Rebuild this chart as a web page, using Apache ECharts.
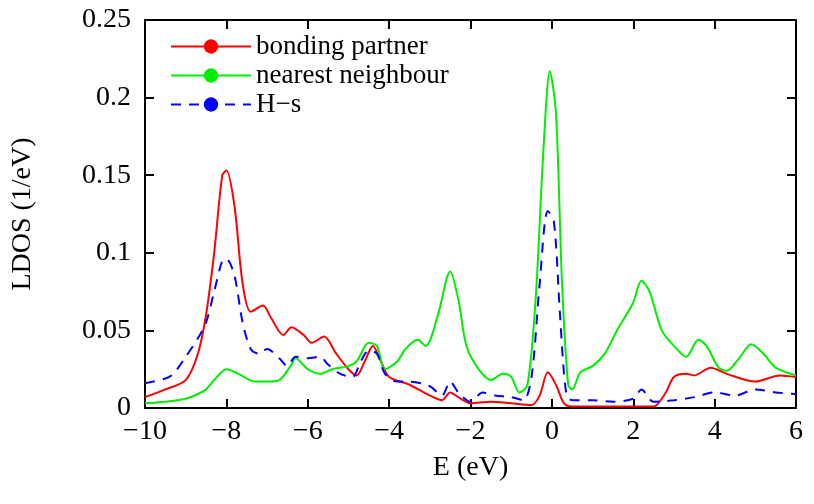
<!DOCTYPE html>
<html>
<head>
<meta charset="utf-8">
<script src="https://cdn.jsdelivr.net/npm/echarts@6/dist/echarts.min.js"></script>
<style>html,body{margin:0;padding:0;background:#fff}#chart{width:814px;height:504px}</style>
</head>
<body>
<div id="chart"></div>
<script>
// ========== 数据 ==========
const seriesNames = ['bonding partner', 'nearest neighbour', 'H\u2212s'];
const xTicks = [-10, -8, -6, -4, -2, 0, 2, 4, 6];
const yTicks = [0, 0.05, 0.1, 0.15, 0.2, 0.25];

const bonding = [[-10,0.007],[-9.5,0.012],[-9,0.018],[-8.7,0.035],[-8.5,0.06],[-8.3,0.1],[-8.1,0.15],[-8.0,0.153],[-7.8,0.13],[-7.6,0.08],[-7.4,0.062],[-7.1,0.066],[-6.9,0.058],[-6.6,0.047],[-6.4,0.052],[-6.1,0.047],[-5.9,0.042],[-5.6,0.046],[-5.3,0.035],[-5.0,0.025],[-4.8,0.021],[-4.6,0.03],[-4.4,0.04],[-4.2,0.03],[-4.0,0.02],[-3.5,0.015],[-3.0,0.008],[-2.7,0.005],[-2.5,0.01],[-2.3,0.007],[-2.0,0.003],[-1.5,0.004],[-1.0,0.003],[-0.5,0.002],[-0.3,0.008],[-0.1,0.023],[0.1,0.015],[0.3,0.003],[0.5,0.001],[1,0.001],[2,0.001],[2.5,0.001],[2.8,0.01],[3.0,0.02],[3.3,0.022],[3.5,0.021],[3.9,0.026],[4.3,0.022],[5.0,0.017],[5.6,0.021],[6,0.02]];

const neighbour = [[-10,0.003],[-9.5,0.004],[-9,0.006],[-8.7,0.009],[-8.5,0.012],[-8.3,0.018],[-8.0,0.025],[-7.7,0.022],[-7.3,0.017],[-7.0,0.017],[-6.7,0.018],[-6.4,0.028],[-6.3,0.032],[-6.0,0.025],[-5.7,0.022],[-5.4,0.025],[-5.0,0.027],[-4.8,0.03],[-4.5,0.042],[-4.3,0.04],[-4.1,0.025],[-3.8,0.03],[-3.6,0.038],[-3.3,0.044],[-3.1,0.04],[-2.8,0.06],[-2.5,0.088],[-2.3,0.07],[-2.1,0.04],[-1.8,0.025],[-1.5,0.018],[-1.2,0.022],[-1.0,0.02],[-0.8,0.01],[-0.6,0.015],[-0.4,0.07],[-0.2,0.17],[-0.05,0.217],[0.1,0.19],[0.25,0.08],[0.4,0.015],[0.5,0.012],[0.7,0.023],[1,0.027],[1.3,0.035],[1.6,0.05],[2.0,0.068],[2.2,0.082],[2.4,0.075],[2.7,0.05],[3.0,0.04],[3.3,0.033],[3.6,0.044],[3.8,0.04],[4.1,0.026],[4.3,0.024],[4.6,0.032],[4.9,0.041],[5.2,0.035],[5.5,0.026],[6.0,0.021]];

const hs = [[-10,0.016],[-9.5,0.019],[-9.3,0.022],[-9,0.033],[-8.7,0.045],[-8.5,0.055],[-8.3,0.075],[-8.1,0.095],[-8.0,0.096],[-7.8,0.085],[-7.6,0.055],[-7.4,0.038],[-7.2,0.035],[-7.0,0.038],[-6.7,0.032],[-6.5,0.027],[-6.3,0.033],[-6.0,0.032],[-5.7,0.033],[-5.5,0.028],[-5.2,0.022],[-4.9,0.02],[-4.7,0.03],[-4.5,0.037],[-4.3,0.035],[-4.1,0.022],[-3.8,0.017],[-3.5,0.017],[-3.0,0.014],[-2.7,0.008],[-2.5,0.017],[-2.3,0.01],[-2.0,0.004],[-1.7,0.01],[-1.4,0.008],[-1.0,0.007],[-0.7,0.005],[-0.5,0.02],[-0.3,0.08],[-0.1,0.127],[0.05,0.12],[0.2,0.06],[0.35,0.01],[0.5,0.005],[1,0.005],[1.5,0.004],[2.0,0.006],[2.2,0.012],[2.5,0.004],[3.0,0.005],[3.5,0.007],[4.0,0.01],[4.5,0.008],[5,0.012],[5.5,0.01],[6,0.009]];

const colors = ['#ff0000', '#00ee00', '#0000ff'];
const font = 'Liberation Serif';

// ========== 图表 ==========
const myChart = echarts.init(document.getElementById('chart'));

const axisCommon = {
    axisLine: { show: true, onZero: false, lineStyle: { color: '#000', width: 2 } },
    axisTick: { inside: true, length: 9, lineStyle: { color: '#000', width: 2 } },
    splitLine: { show: false }
};

const option = {
    animation: false,
    grid: { left: 145, right: 18, top: 20, bottom: 96 },
    legend: {
        show: true, orient: 'vertical', left: 165, top: 28, itemGap: 2,
        itemWidth: 80, itemHeight: 18,
        textStyle: { fontFamily: font, fontSize: 27, color: '#000' },
        data: seriesNames
    },
    xAxis: [
        Object.assign({}, axisCommon, {
            type: 'value', min: -10, max: 6, interval: 2,
            name: 'E (eV)', nameLocation: 'middle', nameGap: 46,
            nameTextStyle: { fontFamily: font, fontSize: 28, color: '#000' },
            axisLabel: { fontFamily: font, fontSize: 28, color: '#000', margin: 10,
                formatter: v => xTicks.includes(v) ? String(v).replace('-', '\u2212') : '' }
        }),
        Object.assign({}, axisCommon, {
            type: 'value', min: -10, max: 6, interval: 2, position: 'top', axisLabel: { show: false }
        })
    ],
    yAxis: [
        Object.assign({}, axisCommon, {
            type: 'value', min: 0, max: 0.25, interval: 0.05,
            name: 'LDOS (1/eV)', nameLocation: 'middle', nameGap: 108,
            nameTextStyle: { fontFamily: font, fontSize: 28, color: '#000' },
            axisLabel: { fontFamily: font, fontSize: 28, color: '#000', margin: 14,
                formatter: v => yTicks.some(t => Math.abs(t - v) < 1e-9) ? String(+v.toFixed(2)) : '' }
        }),
        Object.assign({}, axisCommon, {
            type: 'value', min: 0, max: 0.25, interval: 0.05, position: 'right', axisLabel: { show: false }
        })
    ],
    series: [
        { name: seriesNames[0], data: bonding, color: colors[0], lineStyle: { width: 2, color: colors[0] } },
        { name: seriesNames[1], data: neighbour, color: colors[1], lineStyle: { width: 2, color: colors[1] } },
        { name: seriesNames[2], data: hs, color: colors[2], lineStyle: { width: 2, color: colors[2], type: [10, 8] } }
    ].map(s => Object.assign({ type: 'line', smooth: 0.3, showSymbol: false, symbol: 'none' }, s))
};

myChart.setOption(option);
</script>
</body>
</html>
